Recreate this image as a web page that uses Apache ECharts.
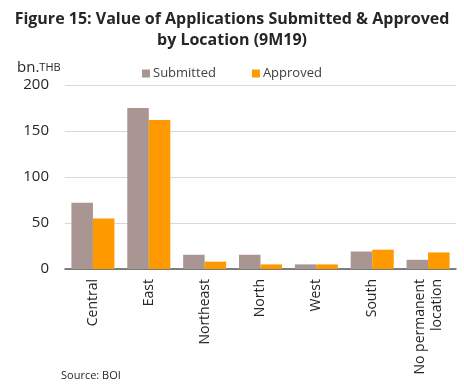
<!DOCTYPE html>
<html><head><meta charset="utf-8">
<script src="https://cdn.jsdelivr.net/npm/echarts@6/dist/echarts.min.js"></script>
<style>html,body{margin:0;padding:0;background:#fff}#c{width:464px;height:390px}</style>
</head><body><div id="c"></div>
<script>
const categories = ['Central','East','Northeast','North','West','South','No permanent\nlocation'];
const submitted = [72,175,15.5,15.5,5,19,10];
const approved = [55,162,8,5,5,21,18];
const yTicks = [0,50,100,150,200];

const chart = echarts.init(document.getElementById('c'));
const F = '"Open Sans", "Liberation Sans", sans-serif';
chart.setOption({
  animation:false,
  title:[{
    text:'Figure 15: Value of Applications Submitted & Approved\nby Location (9M19)',
    left:'center', top:4,
    textStyle:{fontFamily:F,fontWeight:'bold',fontSize:16,lineHeight:21,color:'#262626'}
  },{
    text:'{a|bn.}{b|THB}', left:12, top:55,
    textStyle:{fontWeight:'normal',rich:{a:{fontFamily:F,fontSize:15,color:'#262626',fontWeight:'normal'},b:{fontFamily:F,fontSize:11,color:'#262626',fontWeight:'normal'}}}
  },{
    text:'Source: BOI', left:56, top:365,
    textStyle:{fontFamily:F,fontSize:11,fontWeight:'normal',color:'#262626'}
  }],
  legend:{
    top:62, left:137, itemWidth:8, itemHeight:8, itemGap:36,
    icon:'rect',
    textStyle:{fontFamily:F,fontSize:13,color:'#404040',padding:[0,0,0,-2]},
    data:['Submitted','Approved']
  },
  grid:{left:65,right:8,top:85,bottom:121},
  xAxis:{
    type:'category', data:categories,
    axisLine:{lineStyle:{color:'#595959',width:1.5}},
    axisTick:{show:false},
    axisLabel:{rotate:90,fontFamily:F,fontSize:14,color:'#262626',margin:10,interval:0,lineHeight:17}
  },
  yAxis:{
    type:'value', min:yTicks[0], max:yTicks[yTicks.length-1], interval:50,
    axisLine:{show:false}, axisTick:{show:false},
    splitLine:{lineStyle:{color:'#D9D9D9',width:1}},
    axisLabel:{fontFamily:F,fontSize:15,color:'#262626',margin:16}
  },
  series:[
    {name:'Submitted',type:'bar',data:submitted,itemStyle:{color:'#A99592'},barGap:'0%',barCategoryGap:'23%'},
    {name:'Approved',type:'bar',data:approved,itemStyle:{color:'#FF9900'},barGap:'0%',barCategoryGap:'23%'}
  ]
});
</script></body></html>
